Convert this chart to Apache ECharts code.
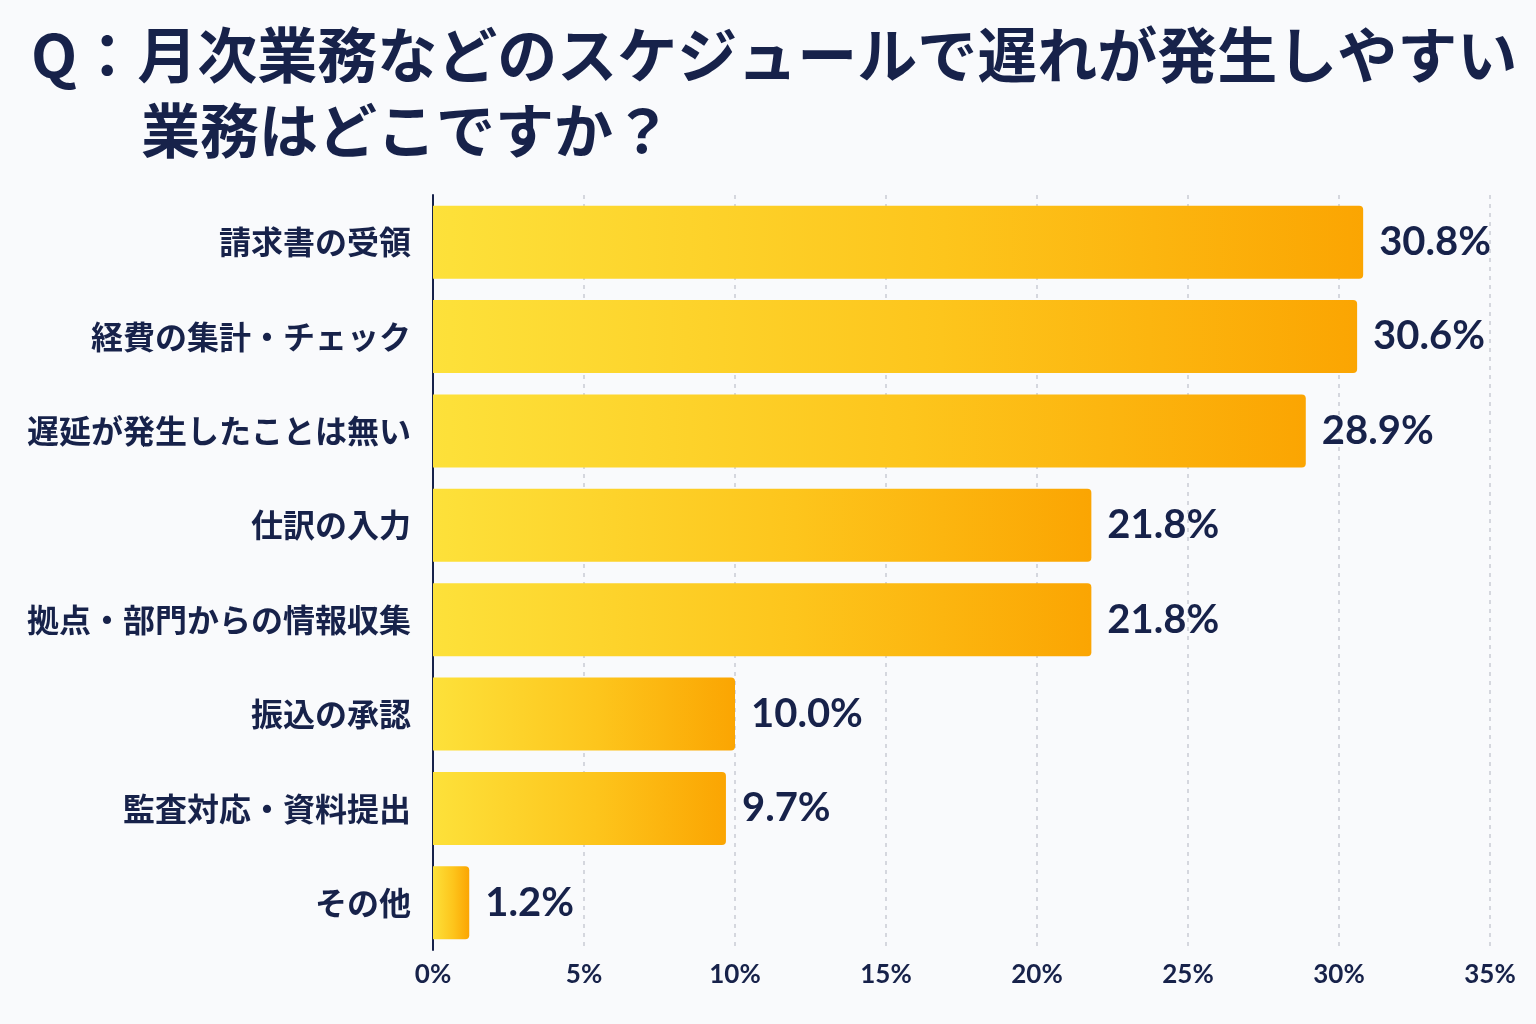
<!DOCTYPE html>
<html>
<head>
<meta charset="utf-8">
<style>
  html, body { margin: 0; padding: 0; background: #f9fafc; }
  #chart { width: 1536px; height: 1024px; }
</style>
<script src="https://cdn.jsdelivr.net/npm/echarts@6/dist/echarts.min.js"></script>
</head>
<body>
<div id="chart"></div>
<script>
// 項目（上から順）
const categories = [
  '請求書の受領',
  '経費の集計・チェック',
  '遅延が発生したことは無い',
  '仕訳の入力',
  '拠点・部門からの情報収集',
  '振込の承認',
  '監査対応・資料提出',
  'その他'
];
const values = [30.8, 30.6, 28.9, 21.8, 21.8, 10.0, 9.7, 1.2];
const titleLine1 = 'Q：月次業務などのスケジュールで遅れが発生しやすい';
const titleLine2 = '業務はどこですか？';

const navy = '#17224a';
const jpFont = '"Noto Sans CJK JP", "Noto Sans", sans-serif';
const numFont = 'Lato, "Noto Sans", sans-serif';

const myChart = echarts.init(document.getElementById('chart'));

myChart.setOption({
  backgroundColor: '#f9fafc',
  title: [
    {
      text: titleLine1,
      left: 26,
      top: 20,
      textStyle: { fontSize: 60, fontWeight: 'bold', color: navy, fontFamily: jpFont }
    },
    {
      text: titleLine2,
      left: 136,
      top: 96,
      textStyle: { fontSize: 59, fontWeight: 'bold', color: navy, fontFamily: jpFont }
    }
  ],
  grid: {
    left: 433,
    right: 46,
    top: 195,
    bottom: 74
  },
  xAxis: {
    type: 'value',
    min: 0,
    max: 35,
    interval: 5,
    axisLine: { show: false },
    axisTick: { show: false },
    splitLine: {
      show: true,
      lineStyle: { color: '#c9ccd3', type: [4, 5], width: 1.5 }
    },
    axisLabel: {
      formatter: '{value}%',
      fontSize: 26,
      fontWeight: 'bold',
      color: navy,
      fontFamily: numFont,
      margin: 12
    }
  },
  yAxis: {
    type: 'category',
    data: categories,
    inverse: true,
    axisLine: { show: true, lineStyle: { color: navy, width: 2 } },
    axisTick: { show: false },
    axisLabel: {
      fontSize: 32,
      fontWeight: 'bold',
      color: navy,
      fontFamily: jpFont,
      margin: 22
    }
  },
  series: [
    {
      type: 'bar',
      data: values,
      barWidth: 73,
      itemStyle: {
        borderRadius: [0, 4, 4, 0],
        color: new echarts.graphic.LinearGradient(0, 0, 1, 0, [
          { offset: 0, color: '#fde13a' },
          { offset: 0.55, color: '#fdc51c' },
          { offset: 1, color: '#fba502' }
        ])
      },
      label: {
        show: true,
        position: 'right',
        distance: 16,
        formatter: (p) => p.value.toFixed(1) + '%',
        fontSize: 40,
        fontWeight: 'bold',
        color: navy,
        fontFamily: numFont
      },
      animation: false
    }
  ]
});
</script>
</body>
</html>
